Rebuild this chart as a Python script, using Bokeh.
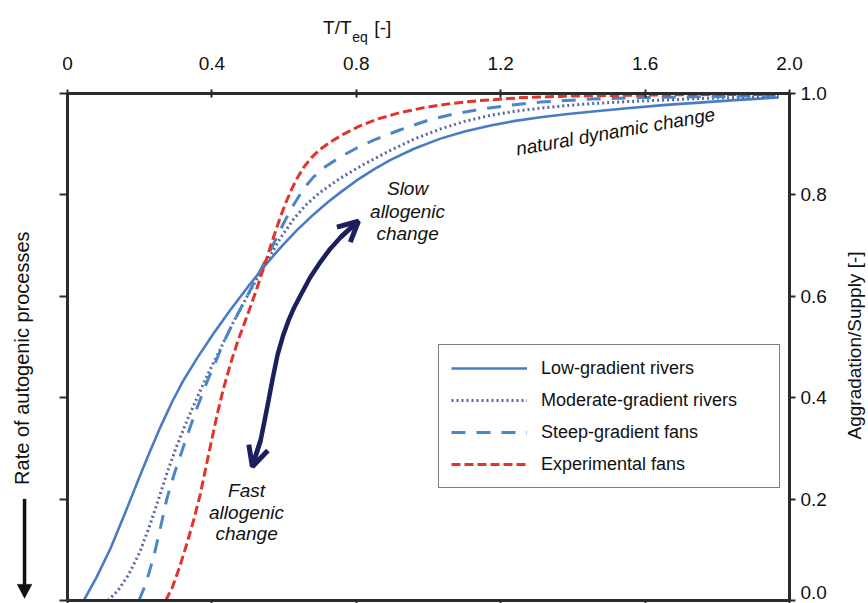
import math
from bokeh.plotting import figure
from bokeh.models import (Range1d, LinearAxis, FixedTicker, Legend, LegendItem, Label,
                          Arrow, OpenHead, PolyAnnotation)
from bokeh.embed import file_html
from bokeh.resources import INLINE

# ---------------- data ----------------
x_ticks = [0.0, 0.4, 0.8, 1.2, 1.6, 2.0]
x_tick_labels = ["0", "0.4", "0.8", "1.2", "1.6", "2.0"]
y_ticks = [0.0, 0.2, 0.4, 0.6, 0.8, 1.0]
y_tick_labels = ["0.0", "0.2", "0.4", "0.6", "0.8", "1.0"]

series_names = ["Low-gradient rivers", "Moderate-gradient rivers",
                "Steep-gradient fans", "Experimental fans"]

low_x = [0.045, 0.08, 0.12, 0.157, 0.194, 0.226, 0.258, 0.29, 0.321, 0.36, 0.404, 0.45,
         0.499, 0.545, 0.59, 0.635, 0.681, 0.72, 0.756, 0.8, 0.85, 0.895, 0.96, 1.033,
         1.1, 1.172, 1.24, 1.31, 1.38, 1.449, 1.55, 1.65, 1.75, 1.85, 1.97]
low_y = [0.0, 0.045, 0.104, 0.168, 0.234, 0.29, 0.343, 0.392, 0.434, 0.479, 0.526, 0.572,
         0.618, 0.659, 0.696, 0.73, 0.761, 0.785, 0.805, 0.828, 0.851, 0.869, 0.891, 0.911,
         0.925, 0.937, 0.946, 0.953, 0.959, 0.964, 0.971, 0.977, 0.982, 0.987, 0.992]

mod_x = [0.112, 0.14, 0.17, 0.2, 0.225, 0.25, 0.275, 0.3, 0.33, 0.36, 0.39, 0.424, 0.46,
         0.5, 0.545, 0.59, 0.626, 0.66, 0.7, 0.756, 0.82, 0.895, 0.96, 1.033, 1.1, 1.172,
         1.24, 1.31, 1.38, 1.449, 1.55, 1.65, 1.75, 1.85, 1.97]
mod_y = [0.0, 0.02, 0.052, 0.095, 0.142, 0.195, 0.25, 0.3, 0.353, 0.402, 0.448, 0.497, 0.55,
         0.603, 0.66, 0.715, 0.752, 0.78, 0.805, 0.833, 0.86, 0.888, 0.91, 0.93, 0.945, 0.957,
         0.965, 0.971, 0.976, 0.98, 0.984, 0.987, 0.99, 0.992, 0.994]

steep_x = [0.198, 0.218, 0.24, 0.258, 0.275, 0.298, 0.322, 0.355, 0.388, 0.41, 0.435, 0.462,
           0.49, 0.512, 0.532, 0.555, 0.578, 0.6, 0.626, 0.652, 0.681, 0.715, 0.756, 0.8,
           0.848, 0.92, 1.006, 1.08, 1.163, 1.24, 1.31, 1.45, 1.6, 1.8, 1.97]
steep_y = [0.0, 0.035, 0.09, 0.145, 0.2, 0.255, 0.305, 0.373, 0.434, 0.47, 0.513, 0.552,
           0.59, 0.62, 0.648, 0.68, 0.714, 0.746, 0.78, 0.81, 0.835, 0.856, 0.875, 0.892,
           0.908, 0.928, 0.949, 0.961, 0.971, 0.978, 0.983, 0.989, 0.992, 0.994, 0.996]

exp_x = [0.272, 0.29, 0.31, 0.332, 0.35, 0.368, 0.382, 0.396, 0.414, 0.432, 0.452, 0.471,
         0.49, 0.507, 0.522, 0.535, 0.549, 0.562, 0.576, 0.59, 0.605, 0.62, 0.637, 0.655,
         0.675, 0.7, 0.73, 0.765, 0.81, 0.86, 0.92, 0.986, 1.06, 1.14, 1.263, 1.4, 1.6,
         1.8, 1.97]
exp_y = [0.0, 0.025, 0.065, 0.115, 0.16, 0.21, 0.258, 0.305, 0.365, 0.418, 0.468, 0.51,
         0.547, 0.58, 0.61, 0.638, 0.668, 0.698, 0.728, 0.757, 0.785, 0.81, 0.834, 0.855,
         0.873, 0.89, 0.905, 0.92, 0.936, 0.95, 0.962, 0.972, 0.98, 0.986, 0.992, 0.995,
         0.997, 0.998, 0.998]

# curved double arrow (annotation path)
arc_x = [0.512, 0.523, 0.535, 0.546, 0.557, 0.569, 0.582, 0.597, 0.612, 0.628, 0.645,
         0.672, 0.701, 0.728, 0.756, 0.781, 0.806]
arc_y = [0.264, 0.29, 0.316, 0.355, 0.395, 0.44, 0.485, 0.522, 0.552, 0.578, 0.601,
         0.637, 0.668, 0.694, 0.716, 0.733, 0.748]

# ---------------- layout (pixels) ----------------
W, H = 868, 603
FL, FR, FT, FB = 67, 789, 93, 600
XMAX, YMAX = 2.0, 1.0
xpx = (FR - FL) / XMAX
ypx = (FB - FT) / YMAX

FONT = "Liberation Sans"
AX = "#2b2b2b"
TXT = "#111111"

p = figure(width=W, height=H,
           x_range=Range1d(-FL / xpx, XMAX + (W - FR) / xpx),
           y_range=Range1d(-(H - FB) / ypx, YMAX + FT / ypx),
           output_backend="svg", toolbar_location=None,
           x_axis_location=None, y_axis_location=None)
p.min_border = 0
p.min_border_left = 0
p.min_border_right = 0
p.min_border_top = 0
p.min_border_bottom = 0
p.outline_line_color = None
p.grid.visible = False
p.background_fill_color = "white"
p.border_fill_color = "white"


def style_axis(ax, tin, tout, labels=True):
    ax.axis_line_color = AX
    ax.axis_line_width = 3
    ax.major_tick_line_color = AX
    ax.major_tick_line_width = 2
    ax.major_tick_in = tin
    ax.major_tick_out = tout
    ax.minor_tick_line_color = None
    ax.major_label_text_font = FONT
    ax.major_label_text_color = TXT if labels else None


top = LinearAxis(ticker=FixedTicker(ticks=x_ticks), fixed_location=YMAX, bounds=(0, XMAX),
                 major_label_overrides=dict(zip(x_ticks, x_tick_labels)))
style_axis(top, 4, 4)
top.major_label_text_font_size = "19px"
top.major_label_standoff = 20
p.add_layout(top, "above")

bottom = LinearAxis(ticker=FixedTicker(ticks=x_ticks), fixed_location=0.0, bounds=(0, XMAX))
style_axis(bottom, 0, 4, labels=False)
p.add_layout(bottom, "below")

left = LinearAxis(ticker=FixedTicker(ticks=y_ticks), fixed_location=0.0, bounds=(0, YMAX))
style_axis(left, 0, 8, labels=False)
p.add_layout(left, "left")

right = LinearAxis(ticker=FixedTicker(ticks=y_ticks[1:]), fixed_location=XMAX,
                   bounds=(0, YMAX),
                   major_label_overrides=dict(zip(y_ticks[1:], y_tick_labels[1:])))
style_axis(right, 0, 6)
right.major_label_text_font_size = "19px"
right.major_label_standoff = 5
p.add_layout(right, "right")

right0 = LinearAxis(ticker=FixedTicker(ticks=y_ticks[:1]), fixed_location=XMAX,
                    bounds=(0, YMAX))
style_axis(right0, 0, 6, labels=False)
right0.axis_line_color = None
p.add_layout(right0, "right")

# ---------------- curves ----------------
r_low = p.line(low_x, low_y, line_color="#4a7cc4", line_width=2.6)
r_mod = p.line(mod_x, mod_y, line_color="#56679f", line_width=3, line_dash="2 3")
r_steep = p.line(steep_x, steep_y, line_color="#4a86c8", line_width=3, line_dash="14 11")
r_exp = p.line(exp_x, exp_y, line_color="#e3342b", line_width=3, line_dash="9 4")

legend = Legend(items=[LegendItem(label=n, renderers=[r]) for n, r in
                       zip(series_names, [r_low, r_mod, r_steep, r_exp])],
                location=(438, H - 488))
legend.border_line_color = "black"
legend.border_line_width = 1
legend.background_fill_color = "white"
legend.background_fill_alpha = 1
legend.padding = 12
legend.spacing = 10
legend.margin = 0
legend.label_height = 22
legend.glyph_height = 22
legend.glyph_width = 76
legend.label_standoff = 14
legend.label_width = 226
legend.label_text_font = FONT
legend.label_text_font_size = "18px"
legend.label_text_color = TXT
p.add_layout(legend)

# ---------------- curved double arrow ----------------
NAVY = "#1b1f5e"
p.line(arc_x, arc_y, line_color=NAVY, line_width=4.5)
p.add_layout(Arrow(end=OpenHead(size=20, line_color=NAVY, line_width=5),
                   x_start=arc_x[2], y_start=arc_y[2], x_end=arc_x[0], y_end=arc_y[0],
                   line_color=NAVY, line_width=4.5))
p.add_layout(Arrow(end=OpenHead(size=20, line_color=NAVY, line_width=5),
                   x_start=arc_x[-3], y_start=arc_y[-3], x_end=arc_x[-1], y_end=arc_y[-1],
                   line_color=NAVY, line_width=4.5))


def lab(x, y, text, size="19px", style="normal", angle=0.0, align="center",
        baseline="middle"):
    p.add_layout(Label(x=x, y=y, text=text, text_font=FONT, text_font_size=size,
                       text_font_style=style, text_color=TXT, angle=angle,
                       text_align=align, text_baseline=baseline))


# annotations inside plot
lab(0.942, 0.813, "Slow", style="italic")
lab(0.942, 0.768, "allogenic", style="italic")
lab(0.942, 0.724, "change", style="italic")
lab(0.496, 0.217, "Fast", style="italic")
lab(0.496, 0.174, "allogenic", style="italic")
lab(0.496, 0.132, "change", style="italic")
lab(1.518, 0.925, "natural dynamic change", style="italic", angle=0.175)

# title of top axis: T/T_eq [-]
lab(0.787, 1.13, "T/T", size="19px", align="right")
lab(0.789, 1.112, "eq", size="14px", align="left")
lab(0.850, 1.13, "[-]", size="19px", align="left")

# bottom-right tick label
lab(2.0 + 11 / xpx, 0.016, y_tick_labels[0], size="19px", align="left")

# side labels
lab(2.181, 0.503, "Aggradation/Supply [-]", size="19px", angle=math.pi / 2)
lab(-0.1247, 0.478, "Rate of autogenic processes", size="20px", angle=math.pi / 2)

# downward arrow under left label
ax_x = -0.119
hw = 1.6 / xpx
hh = 7.5 / xpx
p.add_layout(PolyAnnotation(
    xs=[ax_x - hw, ax_x + hw, ax_x + hw, ax_x + hh, ax_x, ax_x - hh, ax_x - hw],
    ys=[0.2, 0.2, 0.032, 0.032, 0.004, 0.032, 0.032],
    fill_color="#111111", fill_alpha=1, line_color="#111111", line_width=1))

open("out.html", "w").write(file_html(p, INLINE))
